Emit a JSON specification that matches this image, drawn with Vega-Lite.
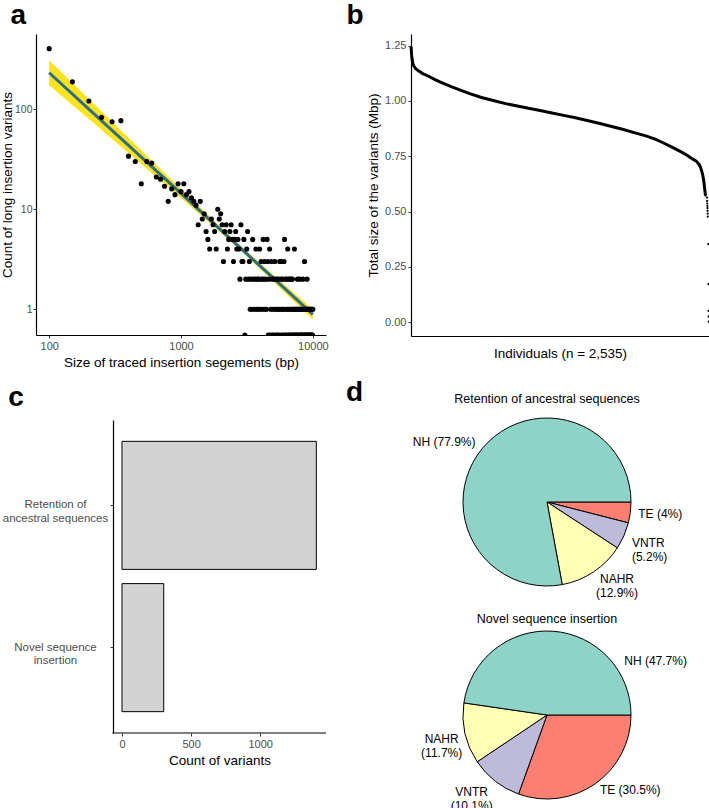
{
  "$schema": "https://vega.github.io/schema/vega-lite/v6.json",
  "background": "white",
  "padding": {"left": 0, "top": 2, "right": 0, "bottom": 0},
  "config": {
    "font": "Liberation Sans",
    "view": {"stroke": null},
    "axis": {"grid": false, "domainColor": "#000000", "domainWidth": 1.2, "tickColor": "#333333", "tickSize": 3, "tickWidth": 1, "labelColor": "#4d4d4d", "labelFontSize": 11, "labelPadding": 2, "titleFontSize": 13.5, "titleFontWeight": "normal", "titleColor": "#000000", "titlePadding": 4, "labelFont": "Liberation Sans", "titleFont": "Liberation Sans"},
    "title": {"fontSize": 28, "fontWeight": "bold", "anchor": "start", "font": "Liberation Sans", "color": "#000000"}
  },
  "columns": 2,
  "align": "each",
  "spacing": {"row": 9, "column": 17},
  "concat": [
    {
      "title": {"text": "a", "frame": "bounds", "dx": 10, "offset": 4},
      "width": 290,
      "height": 301,
      "layer": [
        {
          "data": {"name": "fit"},
          "mark": {"type": "area", "color": "#FCE31C", "opacity": 1},
          "encoding": {
            "x": {"field": "x", "type": "quantitative", "scale": {"type": "log", "domain": [79.43, 12589], "nice": false}, "axis": {"values": [100, 1000, 10000], "format": "d", "title": "Size of traced insertion segements (bp)"}},
            "y": {"field": "lo", "type": "quantitative", "scale": {"type": "log", "domain": [0.553, 566], "nice": false, "zero": false, "clamp": true}, "axis": {"values": [1, 10, 100], "format": "d", "title": "Count of long insertion variants", "labelFontSize": 10.5, "labelPadding": 1, "titlePadding": 0}},
            "y2": {"field": "hi"}
          }
        },
        {
          "data": {"name": "fit"},
          "mark": {"type": "line", "color": "#2C6E8A", "strokeWidth": 3},
          "encoding": {
            "x": {"field": "x", "type": "quantitative"},
            "y": {"field": "fit", "type": "quantitative"}
          }
        },
        {
          "data": {"name": "bins"},
          "mark": {"type": "circle", "size": 26, "color": "black", "opacity": 1, "clip": true, "invalid": null},
          "encoding": {
            "x": {"field": "size", "type": "quantitative"},
            "y": {"field": "count", "type": "quantitative"}
          }
        }
      ]
    },
    {
      "title": {"text": "b", "frame": "bounds", "dx": -20, "offset": 4},
      "width": 298,
      "height": 302,
      "data": {"name": "indiv"},
      "encoding": {
        "x": {"field": "rank", "type": "quantitative", "scale": {"domain": [0, 2537], "nice": false}, "axis": {"labels": false, "ticks": false, "title": "Individuals (n = 2,535)", "titlePadding": 10}},
        "y": {"field": "mbp", "type": "quantitative", "scale": {"domain": [-0.063, 1.303], "nice": false, "zero": false}, "axis": {"values": [0, 0.25, 0.5, 0.75, 1, 1.25], "format": ".2f", "title": "Total size of the variants (Mbp)"}}
      },
      "layer": [
        {"transform": [{"filter": "datum.rank <= 2507"}], "mark": {"type": "line", "color": "black", "strokeWidth": 3}},
        {"transform": [{"filter": "datum.rank >= 2507"}], "mark": {"type": "circle", "color": "black", "size": 5, "opacity": 1}}
      ]
    },
    {
      "title": {"text": "c", "frame": "bounds", "dx": 6, "offset": 8},
      "width": 290,
      "height": 313,
      "layer": [
        {
          "data": {"values": [
            {"type": "Retention of ancestral sequences", "count": 1406},
            {"type": "Novel sequence insertion", "count": 302}
          ]},
          "mark": {"type": "bar", "fill": "#D3D3D3", "stroke": "black", "strokeWidth": 1},
          "encoding": {
            "y": {"field": "type", "type": "nominal", "sort": ["Retention of ancestral sequences", "Novel sequence insertion"], "scale": {"paddingInner": 0.1, "paddingOuter": 0.15}, "axis": {"title": null, "offset": -77, "labelExpr": "datum.value == 'Retention of ancestral sequences' ? ['Retention of', 'ancestral sequences'] : ['Novel sequence', 'insertion']", "labelAlign": "center", "labelBaseline": "middle", "labelPadding": 55, "labelLineHeight": 13.5, "labelFontSize": 11.5}},
            "x": {"field": "count", "type": "quantitative", "scale": {"domain": [-622, 1476], "nice": false, "zero": false}, "axis": {"values": [0, 500, 1000], "format": "d", "title": "Count of variants", "domain": false, "titleX": 183.5}}
          }
        },
        {
          "data": {"values": [{"from": -70, "to": 1476}]},
          "mark": {"type": "rule", "color": "#000000", "strokeWidth": 1.2},
          "encoding": {
            "x": {"field": "from", "type": "quantitative"},
            "x2": {"field": "to"},
            "y": {"value": "height"}
          }
        }
      ]
    },
    {
      "title": {"text": "d", "frame": "bounds", "dx": -65, "offset": -14},
      "spacing": 1,
      "vconcat": [
        {
          "title": {"text": "Retention of ancestral sequences", "fontSize": 12.5, "fontWeight": "normal", "anchor": "middle", "frame": "group", "offset": 11},
          "width": 272,
          "height": 164,
          "data": {"values": [
            {"cat": "TE", "pct": 4, "label": "TE (4%)"},
            {"cat": "VNTR", "pct": 5.2, "label": "VNTR\n(5.2%)"},
            {"cat": "NAHR", "pct": 12.9, "label": "NAHR\n(12.9%)"},
            {"cat": "NH", "pct": 77.9, "label": "NH (77.9%)"}
          ]},
          "transform": [{"window": [{"op": "row_number", "as": "idx"}]}],
          "encoding": {
            "theta": {"field": "pct", "type": "quantitative", "stack": true, "scale": {"range": [1.5707963, 7.8539816]}},
            "order": {"field": "idx", "type": "quantitative"}
          },
          "layer": [
            {"mark": {"type": "arc", "outerRadius": 84, "stroke": "black", "strokeWidth": 1}, "encoding": {"color": {"field": "cat", "type": "nominal", "scale": {"domain": ["NH", "NAHR", "VNTR", "TE"], "range": ["#8DD3C7", "#FFFFB3", "#BEBADA", "#FB8072"]}, "legend": null}}},
            {"mark": {"type": "text", "radius": 93, "align": "right", "baseline": "middle", "fontSize": 12, "lineBreak": "\n", "lineHeight": 14, "color": "black"}, "encoding": {"detail": {"field": "cat"}, "text": {"condition": {"test": "datum.cat === 'NH'", "field": "label"}, "value": ""}}},
            {"mark": {"type": "text", "radius": 92, "align": "left", "baseline": "middle", "fontSize": 12, "lineBreak": "\n", "lineHeight": 14, "color": "black"}, "encoding": {"detail": {"field": "cat"}, "text": {"condition": {"test": "datum.cat === 'TE'", "field": "label"}, "value": ""}}},
            {"mark": {"type": "text", "radius": 95, "dx": -2, "dy": 3, "align": "left", "baseline": "middle", "fontSize": 12, "lineBreak": "\n", "lineHeight": 14, "color": "black"}, "encoding": {"detail": {"field": "cat"}, "text": {"condition": {"test": "datum.cat === 'VNTR'", "field": "label"}, "value": ""}}},
            {"mark": {"type": "text", "radius": 92, "dx": 19, "align": "center", "baseline": "middle", "fontSize": 12, "lineBreak": "\n", "lineHeight": 14, "color": "black"}, "encoding": {"detail": {"field": "cat"}, "text": {"condition": {"test": "datum.cat === 'NAHR'", "field": "label"}, "value": ""}}}
          ]
        },
        {
          "title": {"text": "Novel sequence insertion", "fontSize": 12.5, "fontWeight": "normal", "anchor": "middle", "frame": "group", "offset": -25},
          "width": 272,
          "height": 230,
          "data": {"values": [
            {"cat": "TE", "pct": 30.5, "label": "TE (30.5%)"},
            {"cat": "VNTR", "pct": 10.1, "label": "VNTR\n(10.1%)"},
            {"cat": "NAHR", "pct": 11.7, "label": "NAHR\n(11.7%)"},
            {"cat": "NH", "pct": 47.7, "label": "NH (47.7%)"}
          ]},
          "transform": [{"window": [{"op": "row_number", "as": "idx"}]}],
          "encoding": {
            "theta": {"field": "pct", "type": "quantitative", "stack": true, "scale": {"range": [1.5707963, 7.8539816]}},
            "order": {"field": "idx", "type": "quantitative"}
          },
          "layer": [
            {"mark": {"type": "arc", "outerRadius": 84, "stroke": "black", "strokeWidth": 1}, "encoding": {"color": {"field": "cat", "type": "nominal", "scale": {"domain": ["NH", "NAHR", "VNTR", "TE"], "range": ["#8DD3C7", "#FFFFB3", "#BEBADA", "#FB8072"]}, "legend": null}}},
            {"mark": {"type": "text", "radius": 100, "dx": 70, "dy": 46, "align": "left", "baseline": "middle", "fontSize": 12, "lineBreak": "\n", "lineHeight": 14, "color": "black"}, "encoding": {"detail": {"field": "cat"}, "text": {"condition": {"test": "datum.cat === 'NH'", "field": "label"}, "value": ""}}},
            {"mark": {"type": "text", "radius": 92, "align": "left", "baseline": "middle", "fontSize": 12, "lineBreak": "\n", "lineHeight": 14, "color": "black"}, "encoding": {"detail": {"field": "cat"}, "text": {"condition": {"test": "datum.cat === 'TE'", "field": "label"}, "value": ""}}},
            {"mark": {"type": "text", "radius": 98, "dx": -15, "align": "center", "baseline": "middle", "fontSize": 12, "lineBreak": "\n", "lineHeight": 14, "color": "black"}, "encoding": {"detail": {"field": "cat"}, "text": {"condition": {"test": "datum.cat === 'VNTR'", "field": "label"}, "value": ""}}},
            {"mark": {"type": "text", "radius": 108, "align": "center", "baseline": "middle", "fontSize": 12, "lineBreak": "\n", "lineHeight": 14, "color": "black"}, "encoding": {"detail": {"field": "cat"}, "text": {"condition": {"test": "datum.cat === 'NAHR'", "field": "label"}, "value": ""}}}
          ]
        }
      ]
    }
  ],
  "datasets": {
    "fit": [
      {"x": 100, "fit": 232, "lo": 174, "hi": 310},
      {"x": 200, "fit": 100.5, "lo": 79.8, "hi": 126.5},
      {"x": 500, "fit": 33.3, "lo": 28.4, "hi": 38.9},
      {"x": 1000, "fit": 14.4, "lo": 13.0, "hi": 16.0},
      {"x": 2000, "fit": 6.22, "lo": 5.83, "hi": 6.64},
      {"x": 3000, "fit": 3.81, "lo": 3.6, "hi": 4.04},
      {"x": 5000, "fit": 2.06, "lo": 1.9, "hi": 2.22},
      {"x": 10000, "fit": 0.891, "lo": 0.79, "hi": 1.0}
    ],
    "bins": [
      {"size": 100, "count": 404}, {"size": 150, "count": 188}, {"size": 200, "count": 121}, {"size": 250, "count": 83}, {"size": 300, "count": 75}, {"size": 350, "count": 77}, {"size": 400, "count": 34}, {"size": 450, "count": 30}, {"size": 500, "count": 18}, {"size": 550, "count": 30},
      {"size": 600, "count": 29}, {"size": 650, "count": 21}, {"size": 700, "count": 20}, {"size": 750, "count": 17}, {"size": 800, "count": 12}, {"size": 850, "count": 16}, {"size": 900, "count": 14}, {"size": 950, "count": 18}, {"size": 1000, "count": 15}, {"size": 1050, "count": 18},
      {"size": 1100, "count": 14}, {"size": 1150, "count": 15}, {"size": 1200, "count": 13}, {"size": 1250, "count": 12}, {"size": 1300, "count": 11}, {"size": 1350, "count": 7}, {"size": 1400, "count": 12}, {"size": 1450, "count": 8}, {"size": 1500, "count": 9}, {"size": 1550, "count": 6},
      {"size": 1600, "count": 5}, {"size": 1650, "count": 4}, {"size": 1700, "count": 8}, {"size": 1750, "count": 7}, {"size": 1800, "count": 6}, {"size": 1850, "count": 4}, {"size": 1900, "count": 10}, {"size": 1950, "count": 8}, {"size": 2000, "count": 9}, {"size": 2050, "count": 7},
      {"size": 2100, "count": 3}, {"size": 2150, "count": 6}, {"size": 2200, "count": 7}, {"size": 2250, "count": 4}, {"size": 2300, "count": 5}, {"size": 2350, "count": 6}, {"size": 2400, "count": 7}, {"size": 2450, "count": 5}, {"size": 2500, "count": 3}, {"size": 2550, "count": 5},
      {"size": 2600, "count": 6}, {"size": 2650, "count": 4}, {"size": 2700, "count": 5}, {"size": 2750, "count": 4}, {"size": 2800, "count": 2}, {"size": 2850, "count": 7}, {"size": 2900, "count": 3}, {"size": 2950, "count": 3}, {"size": 3000, "count": 5}, {"size": 3050, "count": 0},
      {"size": 3100, "count": 2}, {"size": 3150, "count": 4}, {"size": 3200, "count": 6}, {"size": 3250, "count": 2}, {"size": 3300, "count": 3}, {"size": 3350, "count": 1}, {"size": 3400, "count": 2}, {"size": 3450, "count": 1}, {"size": 3500, "count": 5}, {"size": 3550, "count": 2},
      {"size": 3600, "count": 1}, {"size": 3650, "count": 2}, {"size": 3700, "count": 4}, {"size": 3750, "count": 1}, {"size": 3800, "count": 2}, {"size": 3850, "count": 1}, {"size": 3900, "count": 2}, {"size": 3950, "count": 4}, {"size": 4000, "count": 1}, {"size": 4050, "count": 3},
      {"size": 4100, "count": 2}, {"size": 4150, "count": 1}, {"size": 4200, "count": 5}, {"size": 4250, "count": 2}, {"size": 4300, "count": 3}, {"size": 4350, "count": 1}, {"size": 4400, "count": 2}, {"size": 4450, "count": 1}, {"size": 4500, "count": 5}, {"size": 4550, "count": 3},
      {"size": 4600, "count": 0}, {"size": 4650, "count": 2}, {"size": 4700, "count": 4}, {"size": 4750, "count": 0}, {"size": 4800, "count": 1}, {"size": 4850, "count": 3}, {"size": 4900, "count": 0}, {"size": 4950, "count": 2}, {"size": 5000, "count": 1}, {"size": 5050, "count": 0},
      {"size": 5100, "count": 2}, {"size": 5150, "count": 3}, {"size": 5200, "count": 1}, {"size": 5250, "count": 0}, {"size": 5300, "count": 2}, {"size": 5350, "count": 1}, {"size": 5400, "count": 0}, {"size": 5450, "count": 2}, {"size": 5500, "count": 1}, {"size": 5550, "count": 0},
      {"size": 5600, "count": 3}, {"size": 5650, "count": 1}, {"size": 5700, "count": 2}, {"size": 5750, "count": 3}, {"size": 5800, "count": 0}, {"size": 5850, "count": 1}, {"size": 5900, "count": 2}, {"size": 5950, "count": 0}, {"size": 6000, "count": 1}, {"size": 6050, "count": 3},
      {"size": 6100, "count": 5}, {"size": 6150, "count": 0}, {"size": 6200, "count": 2}, {"size": 6250, "count": 1}, {"size": 6300, "count": 0}, {"size": 6350, "count": 2}, {"size": 6400, "count": 1}, {"size": 6450, "count": 4}, {"size": 6500, "count": 0}, {"size": 6550, "count": 2},
      {"size": 6600, "count": 1}, {"size": 6650, "count": 0}, {"size": 6700, "count": 2}, {"size": 6750, "count": 1}, {"size": 6800, "count": 0}, {"size": 6850, "count": 2}, {"size": 6900, "count": 1}, {"size": 6950, "count": 0}, {"size": 7000, "count": 2}, {"size": 7050, "count": 1},
      {"size": 7100, "count": 0}, {"size": 7150, "count": 1}, {"size": 7200, "count": 0}, {"size": 7250, "count": 4}, {"size": 7300, "count": 1}, {"size": 7350, "count": 0}, {"size": 7400, "count": 1}, {"size": 7450, "count": 0}, {"size": 7500, "count": 1}, {"size": 7550, "count": 0},
      {"size": 7600, "count": 1}, {"size": 7650, "count": 2}, {"size": 7700, "count": 0}, {"size": 7750, "count": 1}, {"size": 7800, "count": 0}, {"size": 7850, "count": 1}, {"size": 7900, "count": 2}, {"size": 7950, "count": 1}, {"size": 8000, "count": 0}, {"size": 8050, "count": 1},
      {"size": 8100, "count": 0}, {"size": 8150, "count": 1}, {"size": 8200, "count": 0}, {"size": 8250, "count": 1}, {"size": 8300, "count": 0}, {"size": 8350, "count": 1}, {"size": 8400, "count": 2}, {"size": 8450, "count": 0}, {"size": 8500, "count": 1}, {"size": 8550, "count": 0},
      {"size": 8600, "count": 1}, {"size": 8650, "count": 3}, {"size": 8700, "count": 0}, {"size": 8750, "count": 1}, {"size": 8800, "count": 0}, {"size": 8850, "count": 1}, {"size": 8900, "count": 0}, {"size": 8950, "count": 1}, {"size": 9000, "count": 0}, {"size": 9050, "count": 2},
      {"size": 9100, "count": 1}, {"size": 9150, "count": 0}, {"size": 9200, "count": 1}, {"size": 9250, "count": 0}, {"size": 9300, "count": 1}, {"size": 9350, "count": 0}, {"size": 9400, "count": 1}, {"size": 9450, "count": 0}, {"size": 9500, "count": 1}, {"size": 9550, "count": 0},
      {"size": 9600, "count": 1}, {"size": 9650, "count": 0}, {"size": 9700, "count": 1}, {"size": 9750, "count": 0}, {"size": 9800, "count": 1}, {"size": 9850, "count": 0}, {"size": 9900, "count": 1}, {"size": 9950, "count": 0}, {"size": 10000, "count": 1}
    ],
    "indiv": [
      {"rank": 1, "mbp": 1.245}, {"rank": 3, "mbp": 1.225}, {"rank": 6, "mbp": 1.205}, {"rank": 10, "mbp": 1.185}, {"rank": 16, "mbp": 1.17}, {"rank": 24, "mbp": 1.158}, {"rank": 40, "mbp": 1.146}, {"rank": 66, "mbp": 1.136}, {"rank": 100, "mbp": 1.124}, {"rank": 150, "mbp": 1.112},
      {"rank": 200, "mbp": 1.098}, {"rank": 250, "mbp": 1.085}, {"rank": 337, "mbp": 1.066}, {"rank": 420, "mbp": 1.049}, {"rank": 500, "mbp": 1.033}, {"rank": 600, "mbp": 1.016}, {"rank": 700, "mbp": 1.002}, {"rank": 805, "mbp": 0.988}, {"rank": 905, "mbp": 0.977}, {"rank": 1000, "mbp": 0.967},
      {"rank": 1100, "mbp": 0.957}, {"rank": 1200, "mbp": 0.946}, {"rank": 1300, "mbp": 0.935}, {"rank": 1400, "mbp": 0.924}, {"rank": 1500, "mbp": 0.912}, {"rank": 1600, "mbp": 0.899}, {"rank": 1700, "mbp": 0.886}, {"rank": 1800, "mbp": 0.872}, {"rank": 1900, "mbp": 0.857}, {"rank": 2000, "mbp": 0.842},
      {"rank": 2084, "mbp": 0.826}, {"rank": 2150, "mbp": 0.81}, {"rank": 2226, "mbp": 0.79}, {"rank": 2300, "mbp": 0.77}, {"rank": 2350, "mbp": 0.755}, {"rank": 2400, "mbp": 0.737}, {"rank": 2430, "mbp": 0.727}, {"rank": 2451, "mbp": 0.714}, {"rank": 2465, "mbp": 0.7}, {"rank": 2475, "mbp": 0.683},
      {"rank": 2485, "mbp": 0.662}, {"rank": 2492, "mbp": 0.64}, {"rank": 2498, "mbp": 0.612}, {"rank": 2503, "mbp": 0.59}, {"rank": 2507, "mbp": 0.572},
      {"rank": 2520, "mbp": 0.563}, {"rank": 2521, "mbp": 0.548}, {"rank": 2522, "mbp": 0.536}, {"rank": 2523, "mbp": 0.525}, {"rank": 2524, "mbp": 0.515}, {"rank": 2525, "mbp": 0.503}, {"rank": 2526, "mbp": 0.491}, {"rank": 2527, "mbp": 0.477},
      {"rank": 2531, "mbp": 0.353}, {"rank": 2532, "mbp": 0.172}, {"rank": 2533, "mbp": 0.051}, {"rank": 2534, "mbp": 0.025}, {"rank": 2535, "mbp": 0.002}
    ]
  }
}
